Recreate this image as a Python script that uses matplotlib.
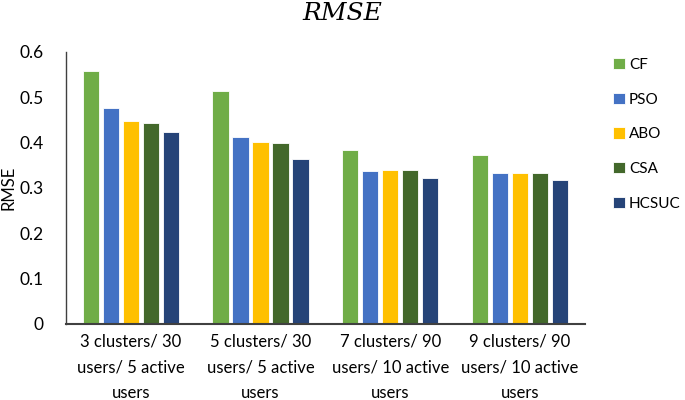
import matplotlib
matplotlib.use("Agg")
import matplotlib.pyplot as plt
import numpy as np

categories = ["3 clusters/ 30\nusers/ 5 active\nusers",
              "5 clusters/ 30\nusers/ 5 active\nusers",
              "7 clusters/ 90\nusers/ 10 active\nusers",
              "9 clusters/ 90\nusers/ 10 active\nusers"]
series_names = ["CF", "PSO", "ABO", "CSA", "HCSUC"]
cf = [0.557, 0.513, 0.384, 0.372]
pso = [0.476, 0.413, 0.338, 0.333]
abo = [0.447, 0.401, 0.339, 0.333]
csa = [0.444, 0.399, 0.339, 0.332]
hcsuc = [0.424, 0.364, 0.322, 0.317]
yticks = [0, 0.1, 0.2, 0.3, 0.4, 0.5, 0.6]
ytick_labels = ["0", "0.1", "0.2", "0.3", "0.4", "0.5", "0.6"]

colors = ["#70AD47", "#4472C4", "#FFC000", "#43682B", "#264478"]
values = [cf, pso, abo, csa, hcsuc]

plt.rcParams['font.family'] = ['Lato', 'DejaVu Sans']

fig = plt.figure(figsize=(6.85, 4.0), dpi=100)
ax = fig.add_axes([0.096, 0.19, 0.758, 0.68])

x = np.arange(len(categories))
pitch = 0.154
width = 0.125
for i, (name, vals, c) in enumerate(zip(series_names, values, colors)):
    ax.bar(x + (i - 2) * pitch, vals, width, color=c, label=name,
           edgecolor="white", linewidth=0.6)

ax.set_xlim(-0.5, 3.5)
ax.set_ylim(0, 0.6)
ax.set_yticks(yticks)
ax.set_yticklabels(ytick_labels, fontsize=12.5)
ax.set_xticks(x)
ax.set_xticklabels(categories, fontsize=12, linespacing=1.75)
ax.tick_params(axis='x', length=0, pad=7)
ax.tick_params(axis='y', length=0, pad=16)
for s in ["top", "right"]:
    ax.spines[s].set_visible(False)
ax.spines["left"].set_color("#404040")
ax.spines["bottom"].set_color("#404040")
ax.spines["left"].set_linewidth(1.0)
ax.spines["bottom"].set_linewidth(1.5)

ax.set_ylabel("RMSE", fontsize=12)
ax.yaxis.set_label_coords(-0.094, 0.5)

fig.text(0.5, 0.965, "RMSE", ha="center", va="center", fontsize=18,
         family="DejaVu Serif", style="italic")

leg = ax.legend(loc="upper left", bbox_to_anchor=(0.895, 0.855),
                bbox_transform=fig.transFigure, frameon=False,
                fontsize=11, labelspacing=1.35, handlelength=0.75,
                handleheight=0.75, handletextpad=0.3, borderaxespad=0,
                borderpad=0)

fig.savefig("out.png", dpi=100)
